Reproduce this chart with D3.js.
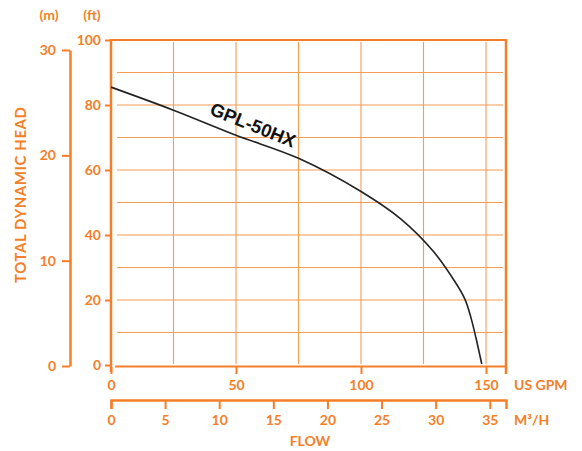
<!DOCTYPE html>
<html>
<head>
<meta charset="utf-8">
<script src="https://cdn.jsdelivr.net/npm/d3@7"></script>
<style>
  body { margin: 0; background: #fff; }
  text { font-family: Lato, "DejaVu Sans", sans-serif; font-weight: 700; }
</style>
</head>
<body>
<svg id="chart" width="582" height="451"></svg>
<script>
// pump curve (US GPM vs head in ft)
const flowGpm = [0, 25, 50, 75, 100, 116, 129, 137.6, 141.6, 144, 146, 148.3];
const headFt  = [85.5, 78.4, 70.7, 63.6, 53.4, 44.9, 34.9, 25.6, 20.2, 14.5, 8.3, 0.3];

const ftTicks = [0, 20, 40, 60, 80, 100];
const mTicks = [0, 10, 20, 30];
const gpmTicks = [0, 50, 100, 150];
const m3hTicks = [0, 5, 10, 15, 20, 25, 30, 35];
const gridGpm = [25, 50, 75, 100, 125, 150];
const gridFt = [10, 20, 30, 40, 50, 60, 70, 80, 90];

const orange = "#f47f28";
const svg = d3.select("#chart");

const x = d3.scaleLinear().domain([0, 150]).range([111, 486]);
const y = d3.scaleLinear().domain([0, 100]).range([365, 40]);
const yM = d3.scaleLinear().domain([0, 30]).range([366, 50]);
const xM = d3.scaleLinear().domain([0, 36.5]).range([111, 506]);

// grid
const grid = svg.append("g").attr("stroke", "#f68b36").attr("stroke-width", 1.1).attr("opacity", 0.85);
grid.selectAll("line.v").data(gridGpm).join("line")
    .attr("x1", d => x(d)).attr("x2", d => x(d))
    .attr("y1", 42).attr("y2", 364);
grid.selectAll("line.h").data(gridFt).join("line")
    .attr("x1", 117).attr("x2", 503)
    .attr("y1", d => y(d)).attr("y2", d => y(d));

// frame
const frame = svg.append("g").attr("stroke", orange).attr("fill", "none");
frame.append("line").attr("x1", 111).attr("x2", 507).attr("y1", 40).attr("y2", 40).attr("stroke-width", 2);
frame.append("line").attr("x1", 506).attr("x2", 506).attr("y1", 39).attr("y2", 374).attr("stroke-width", 2.5);
frame.append("line").attr("x1", 111).attr("x2", 111).attr("y1", 39).attr("y2", 372).attr("stroke-width", 2.5);
frame.append("line").attr("x1", 115).attr("x2", 506).attr("y1", 366.5).attr("y2", 366.5).attr("stroke-width", 2);

function styleAxis(g) {
  g.selectAll(".tick line").attr("stroke", orange).attr("stroke-width", 2);
  g.selectAll(".domain").attr("stroke", orange).attr("stroke-width", 2.5);
  g.selectAll("text").attr("fill", orange).style("font-size", "14px");
}

// ft axis
svg.append("g").attr("transform", "translate(111,0)")
   .call(d3.axisLeft(y).tickValues(ftTicks).tickSize(6).tickPadding(4))
   .call(g => g.select(".domain").remove())
   .call(styleAxis);

// m axis
svg.append("g").attr("transform", "translate(70,0)")
   .call(d3.axisLeft(yM).tickValues(mTicks).tickSize(8).tickSizeOuter(0).tickPadding(6))
   .call(styleAxis);

// US GPM axis
svg.append("g").attr("transform", "translate(0,367)")
   .call(d3.axisBottom(x).tickValues(gpmTicks).tickSize(7).tickPadding(6))
   .call(g => g.select(".domain").remove())
   .call(styleAxis);

// M3/H axis
svg.append("g").attr("transform", "translate(0,400)")
   .call(d3.axisBottom(xM).tickValues(m3hTicks).tickSize(9).tickSizeOuter(9).tickPadding(6))
   .call(styleAxis);

// labels
const lab = svg.append("g").attr("fill", orange).style("font-size", "14px");
lab.append("text").attr("x", 49).attr("y", 20).attr("text-anchor", "middle").text("(m)");
lab.append("text").attr("x", 92).attr("y", 20).attr("text-anchor", "middle").text("(ft)");
lab.append("text").attr("x", 514).attr("y", 390).text("US GPM");
lab.append("text").attr("x", 514).attr("y", 425).text("M³/H");
lab.append("text").attr("x", 310).attr("y", 446).attr("text-anchor", "middle").text("FLOW");
lab.append("text").attr("transform", "translate(26,195) rotate(-90)")
   .attr("text-anchor", "middle").attr("textLength", 176).style("font-size", "15px")
   .text("TOTAL DYNAMIC HEAD");

// curve
const line = d3.line().x(d => x(d[0])).y(d => y(d[1])).curve(d3.curveCatmullRom.alpha(0.5));
svg.append("path")
   .datum(d3.zip(flowGpm, headFt))
   .attr("d", line)
   .attr("fill", "none")
   .attr("stroke", "#222")
   .attr("stroke-width", 1.6);

svg.append("text")
   .attr("transform", "translate(253,125) rotate(22)")
   .attr("text-anchor", "middle").attr("dy", "0.35em")
   .attr("fill", "#111")
   .style("font-family", "'Liberation Sans', Arial, sans-serif")
   .style("font-size", "18.5px")
   .text("GPL-50HX");
</script>
</body>
</html>
